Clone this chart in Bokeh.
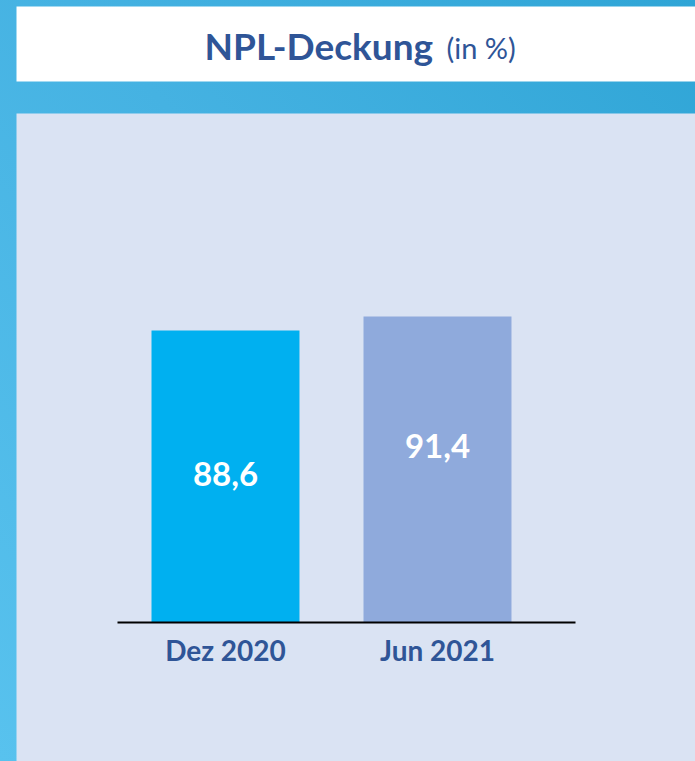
from bokeh.plotting import figure
from bokeh.models import BoxAnnotation, Label, FixedTicker, Range1d, ColumnDataSource
from bokeh.core.properties import value
from bokeh.embed import file_html
from bokeh.resources import INLINE

# ---- data ----
categories = ["Dez 2020", "Jun 2021"]
values = [88.6, 91.4]
value_labels = ["88,6", "91,4"]
title_main = "NPL-Deckung"
title_unit = "(in %)"

# ---- styles ----
bar_colors = ["#00b0f0", "#8faadc"]
label_frac = [0.51, 0.578]   # vertical placement of value labels inside bars
axis_min = 30.2
W, H = 695, 761
TEXT_BLUE = "#2f5597"
PANEL = "#dae3f3"
FONT = "Lato"

xs = list(range(len(categories)))
label_y = [axis_min + f * (v - axis_min) for f, v in zip(label_frac, values)]

src = ColumnDataSource(dict(x=xs, v=values, lbl=value_labels, color=bar_colors, ly=label_y))

p = figure(width=W, height=H, output_backend="svg", toolbar_location=None,
           x_range=Range1d(-1.0613, 2.2170), y_range=Range1d(axis_min - 27.8, axis_min + 124.4),
           y_axis_location=None, min_border=0)
p.styles = {"background": "linear-gradient(to bottom left, #2fa5d6 0%, #45b2e2 45%, #58c2ee 100%)"}
p.border_fill_color = None
p.background_fill_color = None
p.outline_line_color = None
p.xgrid.visible = False
p.ygrid.visible = False

# decorative boxes (title box and panel); screen y measured from bottom
p.add_layout(BoxAnnotation(left=16, right=W, top=H - 6, bottom=H - 81,
                           left_units="screen", right_units="screen",
                           top_units="screen", bottom_units="screen",
                           fill_color="white", fill_alpha=1, line_color=None, level="underlay"))
p.add_layout(BoxAnnotation(left=16, right=W, top=H - 113, bottom=0,
                           left_units="screen", right_units="screen",
                           top_units="screen", bottom_units="screen",
                           fill_color=PANEL, fill_alpha=1, line_color=None, level="underlay"))

p.vbar(x="x", top="v", bottom=axis_min, width=0.698, fill_color="color",
       line_color=None, source=src)
p.text(x="x", y="ly", text="lbl", source=src, text_color="white",
       text_font=value(FONT), text_font_style="bold", text_font_size="33px",
       text_align="center", text_baseline="middle")

ax = p.xaxis[0]
ax.fixed_location = axis_min
ax.bounds = (-0.509, 1.651)
ax.ticker = FixedTicker(ticks=xs)
ax.major_label_overrides = {i: c for i, c in zip(xs, categories)}
ax.axis_line_color = "black"
ax.axis_line_width = 2
ax.major_tick_line_color = None
ax.minor_tick_line_color = None
ax.major_tick_out = 0
ax.major_label_standoff = 10
ax.major_label_text_font = FONT
ax.major_label_text_font_style = "bold"
ax.major_label_text_font_size = "28px"
ax.major_label_text_color = TEXT_BLUE

p.add_layout(Label(x=204, y=H - 45, x_units="screen", y_units="screen", text=title_main,
                   text_font=FONT, text_font_style="bold", text_font_size="37px",
                   text_color=TEXT_BLUE, text_baseline="middle", text_align="left"))
p.add_layout(Label(x=446, y=H - 47, x_units="screen", y_units="screen", text=title_unit,
                   text_font=FONT, text_font_size="29px",
                   text_color=TEXT_BLUE, text_baseline="middle", text_align="left"))

open("out.html", "w").write(file_html(p, INLINE))
